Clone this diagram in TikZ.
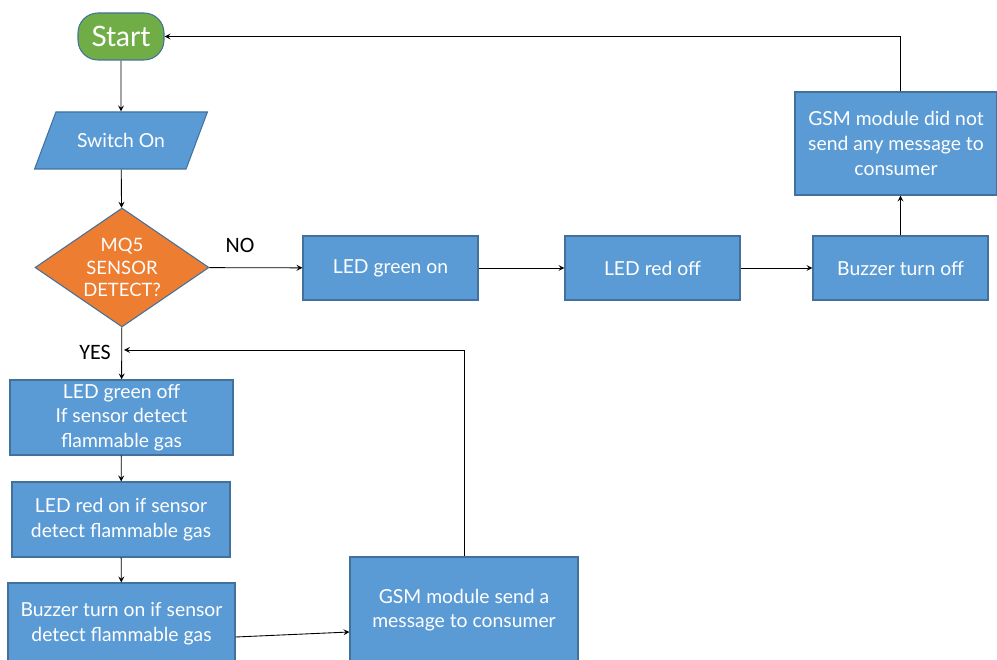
\documentclass[tikz,border=0pt]{standalone}
\usepackage{fontspec}
\setmainfont{Lato}
\newfontfamily\labelfont{Carlito}
\usetikzlibrary{shapes.geometric}
\definecolor{boxblue}{HTML}{5B9BD5}
\definecolor{edgeblue}{HTML}{41719C}
\definecolor{startgreen}{HTML}{70AD47}
\definecolor{decorange}{HTML}{ED7D31}
\begin{document}
\begin{tikzpicture}[
		box/.style={rectangle, draw=edgeblue, fill=boxblue, line width=0.6pt, text=white, align=center, font=\fontsize{11}{14}\selectfont, inner sep=2pt},
		terminal/.style={rectangle, rounded corners=0.4cm, draw=edgeblue, fill=startgreen, line width=0.6pt, text=white, font=\fontsize{16}{18}\selectfont},
		io/.style={trapezium, trapezium left angle=58, trapezium right angle=122, trapezium stretches=true, draw=edgeblue, fill=boxblue, line width=0.6pt, text=white, font=\fontsize{11}{14}\selectfont},
		decision/.style={diamond, draw=edgeblue, fill=decorange, line width=0.6pt, text=white, align=center, inner sep=-5pt, font=\fontsize{10.5}{13}\selectfont},
		arrow/.style={->,>=stealth, line width=0.5pt},
		tag/.style={font=\labelfont\fontsize{12.5}{14}\selectfont}
	]
	\useasboundingbox (0,0) rectangle (19.94,-13.2);
	% Nodes
	\node[terminal, minimum width=1.72cm, minimum height=0.94cm] (start) at (2.42,-0.73) {Start};
	\node[io, minimum width=3.48cm, minimum height=1.14cm] (switch) at (2.42,-2.81) {Switch On};
	\node[decision, minimum width=3.48cm, minimum height=2.38cm] (detect) at (2.44,-5.35) {MQ5\\SENSOR\\DETECT?};

	\node[box, minimum width=3.5cm, minimum height=1.28cm] (greenon) at (7.81,-5.36) {LED green on};
	\node[box, minimum width=3.5cm, minimum height=1.28cm] (redoff) at (13.05,-5.36) {LED red off};
	\node[box, minimum width=3.5cm, minimum height=1.28cm] (buzzoff) at (18.01,-5.36) {Buzzer turn off};
	\node[box, minimum width=4.04cm, minimum height=2.06cm] (gsmnot) at (17.92,-2.87) {GSM module did not\\send any message to\\consumer};

	\node[box, minimum width=4.46cm, minimum height=1.5cm] (greenoff) at (2.43,-8.35) {LED green off\\If sensor detect\\flammable gas};
	\node[box, minimum width=4.36cm, minimum height=1.5cm] (redon) at (2.42,-10.39) {LED red on if sensor\\detect flammable gas};
	\node[box, minimum width=4.54cm, minimum height=1.64cm] (buzzon) at (2.43,-12.48) {Buzzer turn on if sensor\\detect flammable gas};
	\node[box, minimum width=4.56cm, minimum height=2.12cm] (gsmsend) at (9.28,-12.2) {GSM module send a\\message to consumer};

	\coordinate (yesjoin) at (2.48,-7.0);

	% Labels
	\node[tag] (nolabel) at (4.8,-4.9) {NO};
	\node[tag] (yeslabel) at (1.9,-7.04) {YES};

	% Arrows
	\draw[arrow] (start) -- (switch);
	\draw[arrow] (switch) -- (detect);
	\draw[arrow] (detect) -- (greenon);
	\draw[arrow] (greenon) -- (redoff);
	\draw[arrow] (redoff) -- (buzzoff);
	\draw[arrow] (buzzoff.north) -- (buzzoff.north |- gsmnot.south);
	\draw[arrow] (buzzoff.north |- gsmnot.north) |- (start.east);

	\draw[arrow] (detect) -- (greenoff);
	\draw[arrow] (greenoff) -- (redon);
	\draw[arrow] (redon) -- (buzzon);
	\draw[arrow] ([yshift=-0.26cm]buzzon.east) -- ([yshift=-0.44cm]gsmsend.west);
	\draw[arrow] (gsmsend.north) |- (yesjoin);
\end{tikzpicture}
\end{document}
